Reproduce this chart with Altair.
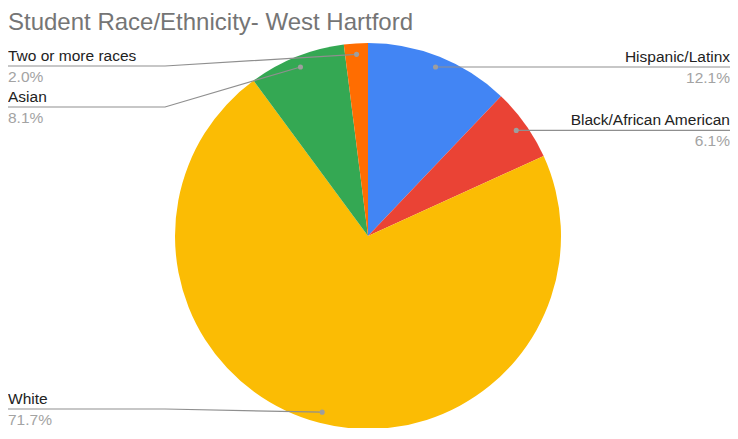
import altair as alt
import pandas as pd
import numpy as np

# ---- data ----
categories = ["Hispanic/Latinx", "Black/African American", "White", "Asian", "Two or more races"]
percents = [12.1, 6.1, 71.7, 8.1, 2.0]
colors = ["#4285F4", "#EA4335", "#FBBC04", "#34A853", "#FF6D01"]
title_text = "Student Race/Ethnicity- West Hartford"

# ---- layout (pixels in the plot area) ----
W, H = 722, 420
CX, CY = 360, 228
R = 193
R_DOT = 182
ELBOW_L = 157
ELBOW_R = W - 157
TOP_MIN = 58
BOT_MAX = H - 19
GAP = 41
FONT = "Liberation Sans"

df = pd.DataFrame({"name": categories, "pct": percents, "order": list(range(len(categories)))})
df["label"] = [f"{p:.1f}%" for p in percents]
total = float(sum(percents))
vals = np.array(percents, dtype=float)
cum = np.concatenate([[0.0], np.cumsum(vals)[:-1]])
mid = 2 * np.pi * (cum + vals / 2) / total
df["dx"] = CX + R_DOT * np.sin(mid)
df["dy"] = CY - R_DOT * np.cos(mid)
df["side"] = np.where(np.sin(mid) > 0, "right", "left")

# label rows: follow the anchor, keep spacing, stay inside the area
line_y = {}
for side in ["left", "right"]:
    sub = df[df["side"] == side].sort_values("dy")
    idxs = list(sub.index)
    ys = []
    prev = -1e9
    for i in idxs:
        y = max(df.loc[i, "dy"], prev + GAP, TOP_MIN)
        ys.append(y)
        prev = y
    for k in range(len(ys) - 1, -1, -1):
        lim = BOT_MAX if k == len(ys) - 1 else ys[k + 1] - GAP
        ys[k] = min(ys[k], lim)
    for i, y in zip(idxs, ys):
        line_y[i] = y
df["ly"] = [line_y[i] for i in df.index]
df["tx"] = np.where(df["side"] == "left", 0, W)
df["ny"] = df["ly"] - 5
df["py"] = df["ly"] + 16

# leader paths
rows = []
for _, r in df.iterrows():
    ex = ELBOW_L if r["side"] == "left" else ELBOW_R
    rows.append({"name": r["name"], "seq": 0, "x": r["dx"], "y": r["dy"]})
    rows.append({"name": r["name"], "seq": 1, "x": ex, "y": r["ly"]})
    rows.append({"name": r["name"], "seq": 2, "x": r["tx"], "y": r["ly"]})
lead = pd.DataFrame(rows)

xs = alt.Scale(domain=[0, W], nice=False, zero=False)
ys_ = alt.Scale(domain=[0, H], nice=False, zero=False, reverse=True)

pie = alt.Chart(df).mark_arc(outerRadius=R).encode(
    theta=alt.Theta("pct:Q", stack=True),
    color=alt.Color("name:N", scale=alt.Scale(domain=categories, range=colors), legend=None),
    order=alt.Order("order:Q"),
    x=alt.value(CX),
    y=alt.value(CY),
)

lines = alt.Chart(lead).mark_line(color="#8F8F8F", strokeWidth=1.2).encode(
    x=alt.X("x:Q", scale=xs, axis=None),
    y=alt.Y("y:Q", scale=ys_, axis=None),
    detail="name:N",
    order="seq:Q",
)

dots = alt.Chart(df).mark_circle(color="#9E9E9E", opacity=1, size=26).encode(
    x=alt.X("dx:Q", scale=xs, axis=None),
    y=alt.Y("dy:Q", scale=ys_, axis=None),
)

def texts(side, align):
    d = df[df["side"] == side]
    names = alt.Chart(d).mark_text(align=align, baseline="alphabetic", font=FONT, fontSize=15.5,
                                   color="#222222").encode(
        x=alt.X("tx:Q", scale=xs, axis=None),
        y=alt.Y("ny:Q", scale=ys_, axis=None),
        text="name:N",
    )
    pcts = alt.Chart(d).mark_text(align=align, baseline="alphabetic", font=FONT, fontSize=15.5,
                                  color="#A3A3A3").encode(
        x=alt.X("tx:Q", scale=xs, axis=None),
        y=alt.Y("py:Q", scale=ys_, axis=None),
        text="label:N",
    )
    return names + pcts

title = alt.Chart(pd.DataFrame({"t": [title_text], "x": [0], "y": [3]})).mark_text(
    align="left", baseline="top", font=FONT, fontSize=24, color="#757575"
).encode(
    x=alt.X("x:Q", scale=xs, axis=None),
    y=alt.Y("y:Q", scale=ys_, axis=None),
    text="t:N",
)

chart = alt.layer(pie, lines, dots, texts("left", "left"), texts("right", "right"), title).properties(
    width=W, height=H, padding=0, autosize=alt.AutoSizeParams(type="none")
).configure_view(stroke=None)

chart.save("out.html", embed_options={"renderer": "svg", "actions": False})
